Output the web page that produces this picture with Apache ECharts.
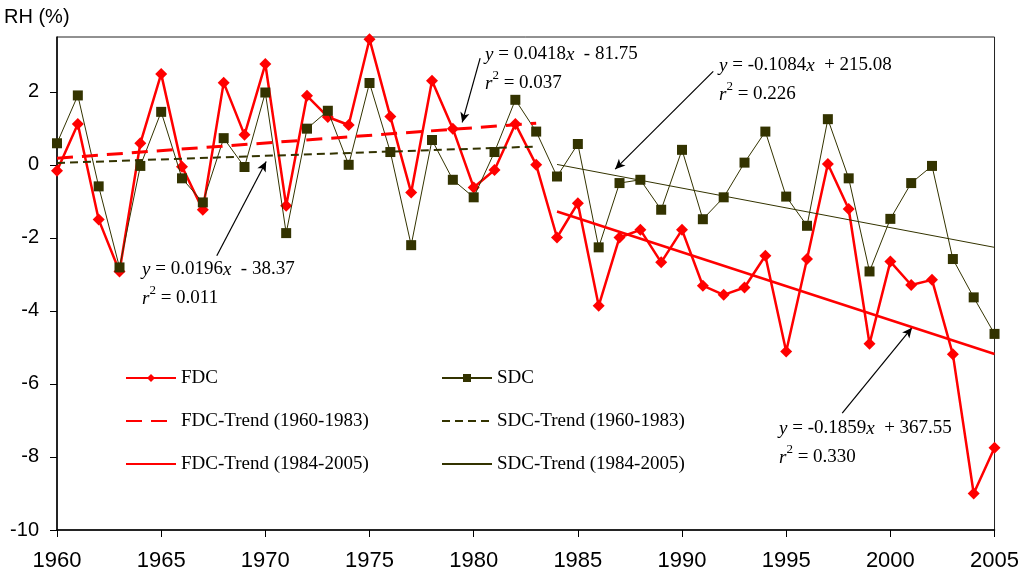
<!DOCTYPE html>
<html>
<head>
<meta charset="utf-8">
<title>RH anomalies FDC / SDC 1960-2005</title>
<script src="https://cdn.jsdelivr.net/npm/echarts@6/dist/echarts.min.js"></script>
<style>
  html, body { margin: 0; padding: 0; background: #fff; }
  #chart { width: 1022px; height: 573px; }
</style>
</head>
<body>
<div id="chart"></div>
<script>
// Years on the horizontal axis
var years = [1960, 1961, 1962, 1963, 1964, 1965, 1966, 1967, 1968, 1969,
             1970, 1971, 1972, 1973, 1974, 1975, 1976, 1977, 1978, 1979,
             1980, 1981, 1982, 1983, 1984, 1985, 1986, 1987, 1988, 1989,
             1990, 1991, 1992, 1993, 1994, 1995, 1996, 1997, 1998, 1999,
             2000, 2001, 2002, 2003, 2004, 2005];

// Relative humidity anomaly (%), FDC
var fdc = [-0.16, 1.12, -1.50, -2.92, 0.59, 2.49, -0.05, -1.23, 2.25, 0.82,
           2.76, -1.12, 1.89, 1.31, 1.09, 3.44, 1.32, -0.76, 2.30, 0.99,
           -0.62, -0.14, 1.12, 0.00, -1.99, -1.05, -3.86, -1.99, -1.78, -2.67,
           -1.78, -3.31, -3.56, -3.36, -2.49, -5.11, -2.58, 0.02, -1.21, -4.90,
           -2.65, -3.29, -3.15, -5.19, -9.00, -7.75];

// Relative humidity anomaly (%), SDC
var sdc = [0.59, 1.90, -0.59, -2.81, -0.03, 1.45, -0.37, -1.03, 0.73, -0.06,
           1.98, -1.87, 0.99, 1.48, 0.00, 2.24, 0.35, -2.20, 0.68, -0.41,
           -0.89, 0.35, 1.78, 0.91, -0.32, 0.57, -2.26, -0.50, -0.41, -1.23,
           0.41, -1.49, -0.89, 0.06, 0.91, -0.87, -1.67, 1.25, -0.37, -2.92,
           -1.48, -0.50, -0.03, -2.58, -3.63, -4.63];

// Linear trend end points for the two periods
var fdcTrendEarly = [[1960, 0.18], [1983, 1.14]];
var sdcTrendEarly = [[1960, 0.05], [1983, 0.50]];
var fdcTrendLate  = [[1984, -1.28], [2005, -5.18]];
var sdcTrendLate  = [[1984, 0.01], [2005, -2.26]];

// Axis ticks
var xTicks = [1960, 1965, 1970, 1975, 1980, 1985, 1990, 1995, 2000, 2005];
var yTicks = [-10, -8, -6, -4, -2, 0, 2];

// Regression equations shown beside the trend lines
var eqFdcEarly = { slope: '0.0418', icpt: '- 81.75', r2: '0.037' };
var eqSdcEarly = { slope: '0.0196', icpt: '- 38.37', r2: '0.011' };
var eqSdcLate  = { slope: '-0.1084', icpt: '+ 215.08', r2: '0.226' };
var eqFdcLate  = { slope: '-0.1859', icpt: '+ 367.55', r2: '0.330' };

var RED = '#ff0000';
var OLIVE = '#333300';
var SERIF = '"Liberation Serif", "Times New Roman", serif';
var SANS = '"Liberation Sans", Arial, sans-serif';

function pairs(xs, ys) {
  return xs.map(function (x, i) { return [x, ys[i]]; });
}

function eqText(eq) {
  return '{i|y} = ' + eq.slope + '{i|x}  ' + eq.icpt + '\n{i|r}{s|2} = ' + eq.r2;
}

function eqGraphic(eq, left, top) {
  return {
    type: 'text',
    left: left,
    top: top,
    silent: true,
    style: {
      text: eqText(eq),
      fill: '#000',
      font: '19px ' + SERIF,
      lineHeight: 29,
      rich: {
        i: { fontStyle: 'italic', fontFamily: SERIF, fontSize: 19, lineHeight: 29 },
        s: { fontFamily: SERIF, fontSize: 13, lineHeight: 18, verticalAlign: 'top' }
      }
    }
  };
}

// Trend lines carry no point markers, so their legend entries show the line only
function lineOnly(name) {
  return { name: name, itemStyle: { opacity: 0 } };
}

var legendText = { fontFamily: SERIF, fontSize: 19, color: '#000', lineHeight: 20 };

var chart = echarts.init(document.getElementById('chart'), null, { renderer: 'canvas' });

var option = {
  animation: false,
  backgroundColor: '#fff',
  grid: {
    left: 57, right: 25, top: 37, bottom: 43,
    show: true, borderColor: '#222', borderWidth: 1
  },
  xAxis: {
    type: 'value',
    min: 1960, max: 2005, interval: 5,
    axisLine: { show: true, onZero: false, lineStyle: { color: '#000', width: 1.5 } },
    axisTick: { show: true, length: 7, lineStyle: { color: '#000' }, customValues: xTicks },
    axisLabel: {
      customValues: xTicks,
      formatter: function (v) { return String(v); },
      color: '#000', fontFamily: SANS, fontSize: 22, margin: 20
    },
    splitLine: { show: false }
  },
  yAxis: {
    type: 'value',
    min: -10, max: 3.5, interval: 2,
    axisLine: { show: true, onZero: false, lineStyle: { color: '#000', width: 1.5 } },
    axisTick: { show: true, length: 7, lineStyle: { color: '#000' }, customValues: yTicks },
    axisLabel: {
      customValues: yTicks,
      color: '#000', fontFamily: SANS, fontSize: 20, margin: 18
    },
    splitLine: { show: false }
  },
  legend: [
    {
      data: ['FDC', lineOnly('FDC-Trend (1960-1983)'), lineOnly('FDC-Trend (1984-2005)')],
      orient: 'vertical', left: 120, top: 363,
      itemWidth: 50, itemHeight: 10, itemGap: 23,
      selectedMode: false,
      textStyle: legendText
    },
    {
      data: ['SDC', lineOnly('SDC-Trend (1960-1983)'), lineOnly('SDC-Trend (1984-2005)')],
      orient: 'vertical', left: 436, top: 363,
      itemWidth: 50, itemHeight: 10, itemGap: 23,
      selectedMode: false,
      textStyle: legendText
    }
  ],
  series: [
    {
      name: 'FDC',
      type: 'line',
      data: pairs(years, fdc),
      symbol: 'diamond',
      symbolSize: 12,
      itemStyle: { color: RED },
      lineStyle: { color: RED, width: 2.5 },
      z: 3,
      markLine: {
        silent: true,
        symbol: ['none', 'arrow'],
        symbolSize: [7, 10],
        label: { show: false },
        lineStyle: { color: '#000', width: 1.2, type: 'solid' },
        data: [
          [{ coord: [1980.31, 2.92] }, { coord: [1979.45, 1.16] }],
          [{ coord: [1967.67, -2.49] }, { coord: [1970.04, 0.09] }],
          [{ coord: [1991.50, 2.56] }, { coord: [1986.79, -0.12] }],
          [{ coord: [1997.69, -6.80] }, { coord: [2001.04, -4.46] }]
        ]
      }
    },
    {
      name: 'SDC',
      type: 'line',
      data: pairs(years, sdc),
      symbol: 'rect',
      symbolSize: 10,
      itemStyle: { color: OLIVE },
      lineStyle: { color: OLIVE, width: 1 },
      z: 4
    },
    {
      name: 'FDC-Trend (1960-1983)',
      type: 'line',
      data: fdcTrendEarly,
      symbol: 'none',
      itemStyle: { color: RED },
      lineStyle: { color: RED, width: 3, type: [16, 9] },
      z: 5
    },
    {
      name: 'SDC-Trend (1960-1983)',
      type: 'line',
      data: sdcTrendEarly,
      symbol: 'none',
      itemStyle: { color: OLIVE },
      lineStyle: { color: OLIVE, width: 2, type: [8, 5] },
      z: 5
    },
    {
      name: 'FDC-Trend (1984-2005)',
      type: 'line',
      data: fdcTrendLate,
      symbol: 'none',
      itemStyle: { color: RED },
      lineStyle: { color: RED, width: 2.5 },
      z: 5
    },
    {
      name: 'SDC-Trend (1984-2005)',
      type: 'line',
      data: sdcTrendLate,
      symbol: 'none',
      itemStyle: { color: OLIVE },
      lineStyle: { color: OLIVE, width: 1 },
      z: 5
    }
  ],
  graphic: [
    {
      type: 'text', left: 4, top: 7, silent: true,
      style: { text: 'RH (%)', fill: '#000', font: '20px ' + SANS }
    },
    eqGraphic(eqFdcEarly, 485, 40),
    eqGraphic(eqSdcEarly, 142, 255),
    eqGraphic(eqSdcLate, 719, 51),
    eqGraphic(eqFdcLate, 779, 414)
  ]
};

chart.setOption(option);
</script>
</body>
</html>
